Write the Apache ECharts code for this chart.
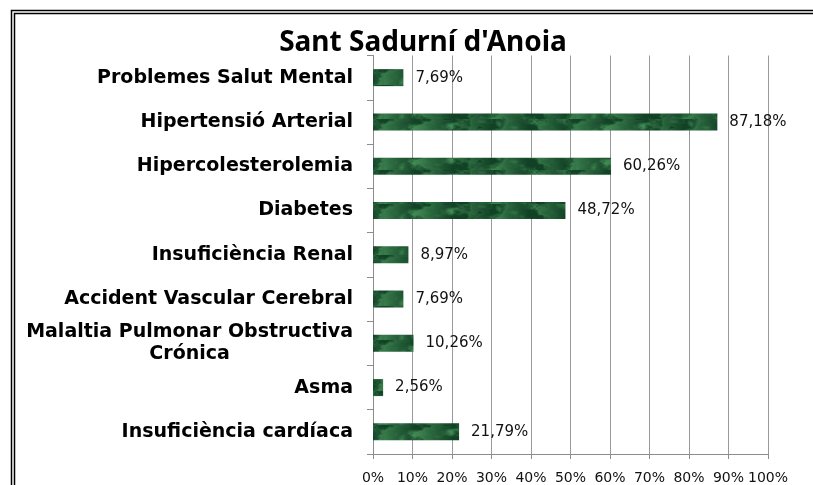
<!DOCTYPE html>
<html>
<head>
<meta charset="utf-8">
<script src="https://cdn.jsdelivr.net/npm/echarts@6/dist/echarts.min.js"></script>
<style>
html,body{margin:0;padding:0;background:#fff;}
#chart{width:813px;height:485px;}
</style>
</head>
<body>
<div id="chart"></div>
<script>
// ---- data (top to bottom as shown) ----
const categories = [
  'Problemes Salut Mental',
  'Hipertensió Arterial',
  'Hipercolesterolemia',
  'Diabetes',
  'Insuficiència Renal',
  'Accident Vascular Cerebral',
  'Malaltia Pulmonar Obstructiva\nCrónica',
  'Asma',
  'Insuficiència cardíaca'
];
const values = [7.69, 87.18, 60.26, 48.72, 8.97, 7.69, 10.26, 2.56, 21.79];
const xTicks = [0, 10, 20, 30, 40, 50, 60, 70, 80, 90, 100];
const titleText = "Sant Sadurní d'Anoia";

// ---- mottled green marble texture (deterministic hash noise) ----
function hash(ix, iy) {
  let h = (ix * 374761393 + iy * 668265263) | 0;
  h = (h ^ (h >>> 13)) * 1274126177 | 0;
  h = h ^ (h >>> 16);
  return (h >>> 0) / 4294967295;
}
function vnoise(x, y, period) {
  const x0 = Math.floor(x), y0 = Math.floor(y);
  const fx = x - x0, fy = y - y0;
  const sx = fx * fx * (3 - 2 * fx), sy = fy * fy * (3 - 2 * fy);
  const px = ((x0 % period) + period) % period, px1 = (px + 1) % period;
  const a = hash(px, y0), b = hash(px1, y0), c = hash(px, y0 + 1), d = hash(px1, y0 + 1);
  return a + (b - a) * sx + (c - a) * sy + (a - b - c + d) * sx * sy;
}
function makeTexture() {
  const w = 192, h = 17;
  const cv = document.createElement('canvas');
  cv.width = w; cv.height = h;
  const ctx = cv.getContext('2d');
  const img = ctx.createImageData(w, h);
  for (let y = 0; y < h; y++) {
    for (let x = 0; x < w; x++) {
      let v = 0.55 * vnoise(x / 16, y / 8, 12)
            + 0.3 * vnoise(x / 6, y / 4 + 7, 32)
            + 0.15 * vnoise(x / 2.5, y / 2 + 13, 77);
      const t = Math.abs(Math.sin((x / 12 + v * 5)));
      v = 0.75 * v + 0.25 * (1 - t);
      v = Math.max(0, Math.min(1, (v - 0.28) * 1.6));
      const r = Math.round(18 + v * 56);
      const g = Math.round(66 + v * 84);
      const b = Math.round(38 + v * 54);
      const i = (y * w + x) * 4;
      img.data[i] = r; img.data[i + 1] = g; img.data[i + 2] = b; img.data[i + 3] = 255;
    }
  }
  ctx.putImageData(img, 0, 0);
  return cv;
}

const chart = echarts.init(document.getElementById('chart'), null, {renderer: 'canvas'});
const fmtPct = v => v.toFixed(2).replace('.', ',') + '%';

chart.setOption({
  animation: false,
  backgroundColor: '#fff',
  title: {
    text: titleText,
    left: 418,
    textAlign: 'center',
    top: 24,
    textStyle: {fontFamily: 'Noto Sans', fontWeight: 'bold', fontSize: 28, color: '#000'}
  },
  graphic: [
    {type: 'rect', shape: {x: 11.5, y: 10.5, width: 900, height: 600}, style: {fill: 'none', stroke: '#000', lineWidth: 1.5}, silent: true},
    {type: 'rect', shape: {x: 14.5, y: 13.5, width: 900, height: 600}, style: {fill: 'none', stroke: '#000', lineWidth: 1.5}, silent: true}
  ],
  grid: {left: 373, top: 55.5, width: 395, height: 399, containLabel: false},
  xAxis: {
    type: 'value',
    min: xTicks[0],
    max: xTicks[xTicks.length - 1],
    interval: 10,
    axisLine: {show: true, lineStyle: {color: '#8c8c8c', width: 1}},
    axisTick: {show: true, length: 5, lineStyle: {color: '#8c8c8c'}},
    splitLine: {show: true, lineStyle: {color: '#999', width: 1}},
    axisLabel: {
      formatter: v => v + '%',
      fontFamily: 'DejaVu Sans', fontSize: 14, color: '#111', margin: 17
    }
  },
  yAxis: {
    type: 'category',
    data: categories,
    inverse: true,
    axisLine: {show: true, lineStyle: {color: '#8c8c8c', width: 1}},
    axisTick: {show: true, length: 6, lineStyle: {color: '#8c8c8c'}},
    axisLabel: {
      margin: 20,
      fontFamily: 'DejaVu Sans', fontWeight: 'bold', fontSize: 19, color: '#000',
      formatter: v => v.split('\n').map(s => '{a|' + s + '}').join('\n'),
      rich: {a: {align: 'center', fontFamily: 'DejaVu Sans', fontWeight: 'bold', fontSize: 19, color: '#000', lineHeight: 22}}
    }
  },
  series: [{
    type: 'bar',
    data: values,
    barWidth: 17,
    itemStyle: {color: {image: makeTexture(), repeat: 'repeat'}},
    label: {
      show: true,
      position: 'right',
      distance: 12,
      formatter: p => fmtPct(p.value),
      fontFamily: 'DejaVu Sans', fontSize: 15, color: '#111'
    }
  }]
});
</script>
</body>
</html>
